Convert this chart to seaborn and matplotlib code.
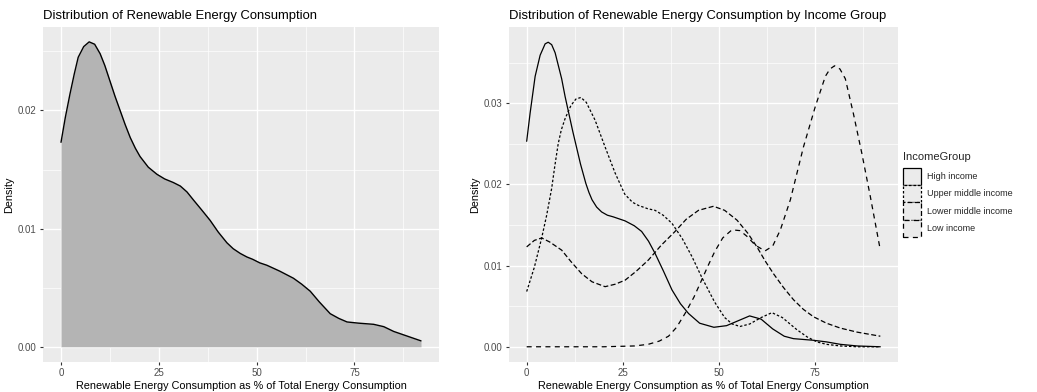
import matplotlib
matplotlib.use("Agg")
import matplotlib.pyplot as plt
import seaborn as sns
import pandas as pd
from matplotlib.patches import Patch
from matplotlib.ticker import MultipleLocator

# ---------------- data ----------------
all_x = [0, 1.1, 2.3, 3.4, 4.4, 5.8, 7.2, 8.6, 10, 11.2, 12.5, 13.8, 15.1, 16.4, 17.7, 19,
         20.2, 22.3, 24.5, 26.5, 28.7, 30.5, 32.2, 33.9, 35.9, 38.1, 40.2, 42.4, 44, 45.8,
         47.5, 49, 50.8, 52.6, 55.9, 59.4, 61.5, 63.7, 66, 68.8, 71, 73.1, 76, 79.9, 82.5,
         85, 88.5, 92]
all_density = [0.0173, 0.0194, 0.0214, 0.0231, 0.0245, 0.0254, 0.0258, 0.0256, 0.0248,
               0.0238, 0.0225, 0.0212, 0.0200, 0.0188, 0.0177, 0.0168, 0.0161, 0.0152,
               0.0146, 0.0142, 0.0139, 0.0136, 0.0131, 0.0124, 0.0116, 0.0107, 0.0097,
               0.0088, 0.0083, 0.0079, 0.0076, 0.0074, 0.0071, 0.0069, 0.0064, 0.0058,
               0.0053, 0.0047, 0.0038, 0.0028, 0.0024, 0.0021, 0.0020, 0.0019, 0.0017,
               0.0013, 0.0009, 0.0005]

groups = ["High income", "Upper middle income", "Lower middle income", "Low income"]

high_x = [0, 0.9, 2.2, 3.5, 4.8, 5.6, 6.5, 7.4, 9.1, 10, 12, 14, 15.4, 16.2, 17, 18.2, 19.5,
          21, 22.5, 25.6, 28, 29.9, 31.7, 33.4, 35.6, 37.8, 40, 42.1, 45, 48.7, 52, 55, 58,
          61, 64, 67, 69.4, 72, 74.6, 78, 81.6, 86, 92]
high_y = [0.0253, 0.0288, 0.0333, 0.0359, 0.0373, 0.0375, 0.0372, 0.0362, 0.0330, 0.0308,
          0.0265, 0.0225, 0.0201, 0.0190, 0.0181, 0.0172, 0.0166, 0.0162, 0.0160, 0.0155,
          0.0149, 0.0142, 0.0130, 0.0115, 0.0093, 0.0070, 0.0053, 0.0041, 0.0029, 0.0024,
          0.0026, 0.0032, 0.0038, 0.0034, 0.0022, 0.0013, 0.0010, 0.0009, 0.0008, 0.0006,
          0.0003, 0.0001, 0.0]

upper_x = [0, 2, 3.9, 5.2, 6.5, 7.3, 8.2, 9, 10, 11.5, 12.8, 14.1, 15.5, 17.8, 20.4, 23, 25.5,
           27.5, 29.1, 31.5, 33.4, 35.5, 37.8, 40.5, 43, 45.6, 48.9, 51.5, 53.5, 55.5, 58, 61,
           63.8, 66.5, 70.3, 73, 75.5, 78, 81.6, 86, 92]
upper_y = [0.0068, 0.0098, 0.0134, 0.0162, 0.0195, 0.0222, 0.0250, 0.0267, 0.0281, 0.0297,
           0.0305, 0.0307, 0.0301, 0.0279, 0.0246, 0.0214, 0.0188, 0.0178, 0.0174, 0.0170,
           0.0168, 0.0162, 0.0152, 0.0133, 0.0111, 0.0085, 0.0055, 0.0036, 0.0028, 0.0025,
           0.0028, 0.0036, 0.0042, 0.0036, 0.0021, 0.0012, 0.0006, 0.0003, 0.0001, 0.0, 0.0]

lower_x = [0, 2, 3.9, 6, 9.1, 11.5, 14.3, 17, 20.4, 23, 25.6, 28.5, 31.7, 35, 38.6, 41.5, 44.7,
           48.6, 51.5, 54.7, 57.5, 59.9, 62, 64.2, 66.8, 69.4, 72, 74.6, 78, 81.6, 86, 92]
lower_y = [0.0123, 0.0131, 0.0134, 0.0129, 0.0119, 0.0105, 0.0090, 0.0080, 0.0074, 0.0077,
           0.0082, 0.0093, 0.0107, 0.0125, 0.0142, 0.0157, 0.0168, 0.0173, 0.0168, 0.0156,
           0.0140, 0.0123, 0.0106, 0.0090, 0.0073, 0.0058, 0.0046, 0.0037, 0.0029, 0.0023,
           0.0018, 0.0013]

low_x = [0, 10, 20, 28, 31.6, 34.5, 36.9, 39, 41.2, 43.5, 45.6, 47.3, 48.9, 51, 53.4, 55.5,
         57.3, 59.5, 62, 64, 66, 68.6, 72, 75.1, 77.7, 78.9, 80.1, 81.5, 82.9, 85, 87.2,
         89.4, 92]
low_y = [0.0, 0.0, 0.0, 0.0001, 0.0003, 0.0007, 0.0013, 0.0024, 0.0041, 0.0061, 0.0083, 0.0101,
         0.0117, 0.0134, 0.0144, 0.0143, 0.0136, 0.0125, 0.0118, 0.0124, 0.0144, 0.0181,
         0.0246, 0.0296, 0.0333, 0.0342, 0.0346, 0.0342, 0.0330, 0.0287, 0.0238, 0.0185,
         0.0119]

x_ticks = [0, 25, 50, 75]
x_tick_labels = ["0", "25", "50", "75"]
left_y_ticks = [0.00, 0.01, 0.02]
left_y_labels = ["0.00", "0.01", "0.02"]
right_y_ticks = [0.00, 0.01, 0.02, 0.03]
right_y_labels = ["0.00", "0.01", "0.02", "0.03"]

# ---------------- style ----------------
sns.set_theme(style="darkgrid", rc={
    "axes.facecolor": "#EBEBEB",
    "grid.color": "white",
    "axes.edgecolor": "#EBEBEB",
    "axes.linewidth": 0,
    "xtick.color": "#333333",
    "ytick.color": "#333333",
    "xtick.bottom": True,
    "ytick.left": True,
    "xtick.major.size": 2.5,
    "ytick.major.size": 2.5,
    "xtick.major.width": 0.8,
    "ytick.major.width": 0.8,
    "xtick.major.pad": 2,
    "ytick.major.pad": 2,
})
plt.rcParams["font.family"] = ["Liberation Sans", "DejaVu Sans"]

W, H = 1037, 392
fig = plt.figure(figsize=(W / 100, H / 100), dpi=100)
fig.patch.set_facecolor("white")

def px_axes(x0, y0, x1, y1):
    return fig.add_axes([x0 / W, 1 - y1 / H, (x1 - x0) / W, (y1 - y0) / H])

ax1 = px_axes(43, 27, 439, 362)
ax2 = px_axes(509, 27, 898, 362)

def style_axes(ax, yticks, ylabels, ymax, yminor):
    ax.set_xlim(-4.6, 96.6)
    ax.set_ylim(-0.05 * ymax, 1.05 * ymax)
    ax.set_xticks(x_ticks)
    ax.set_xticklabels(x_tick_labels)
    ax.set_yticks(yticks)
    ax.set_yticklabels(ylabels)
    ax.xaxis.set_minor_locator(MultipleLocator(12.5))
    ax.yaxis.set_minor_locator(MultipleLocator(yminor))
    ax.grid(which="major", color="white", linewidth=1.0)
    ax.grid(which="minor", color="white", linewidth=0.5)
    ax.tick_params(axis="both", which="major", labelsize=7, labelcolor="#4D4D4D",
                   length=2.5, color="#333333")
    ax.tick_params(axis="both", which="minor", length=0)
    for s in ax.spines.values():
        s.set_visible(False)
    ax.set_axisbelow(True)
    ax.set_xlabel("Renewable Energy Consumption as % of Total Energy Consumption",
                  fontsize=7.8, color="black", labelpad=2)
    ax.set_ylabel("Density", fontsize=7.8, color="black", labelpad=3)

# ---------------- left panel ----------------
df_all = pd.DataFrame({"x": all_x, "density": all_density})
ax1.fill_between(df_all["x"], 0, df_all["density"], color="#B4B4B4", linewidth=0, zorder=2)
sns.lineplot(data=df_all, x="x", y="density", ax=ax1, color="black", linewidth=1.0,
             sort=False, zorder=3)
style_axes(ax1, left_y_ticks, left_y_labels, 0.02577, 0.005)
ax1.set_title("Distribution of Renewable Energy Consumption", fontsize=9.4, loc="left",
              pad=6, color="black")

# ---------------- right panel ----------------
frames = []
for g, xs, ys in zip(groups, [high_x, upper_x, lower_x, low_x], [high_y, upper_y, lower_y, low_y]):
    frames.append(pd.DataFrame({"x": xs, "density": ys, "IncomeGroup": g}))
df_grp = pd.concat(frames, ignore_index=True)

dash_map = {"High income": "", "Upper middle income": (2, 1.6),
            "Lower middle income": (4, 2), "Low income": (4, 3.5)}
sns.lineplot(data=df_grp, x="x", y="density", style="IncomeGroup", style_order=groups,
             dashes=dash_map, color="black", linewidth=0.9, ax=ax2, sort=False,
             estimator=None, legend=False)
style_axes(ax2, right_y_ticks, right_y_labels, 0.0375, 0.005)
ax2.set_title("Distribution of Renewable Energy Consumption by Income Group", fontsize=9.4,
              loc="left", pad=6, color="black")

ls_map = {"High income": "-", "Upper middle income": (0, (2, 1.6)),
          "Lower middle income": (0, (4, 2)), "Low income": (0, (4, 3.5))}
handles = [Patch(facecolor="#EBEBEB", edgecolor="black", linewidth=0.9, linestyle=ls_map[g],
                 label=g) for g in groups]
leg = fig.legend(handles=handles, title="IncomeGroup", loc="upper left",
                 bbox_to_anchor=(903 / W, 1 - 152 / H), frameon=False, fontsize=6.5,
                 title_fontsize=8, handlelength=2.0, handleheight=2.6, labelspacing=0.0,
                 handletextpad=0.7, borderpad=0, borderaxespad=0)
leg._legend_box.align = "left"
leg._legend_box.sep = 4

fig.savefig("out.png", dpi=100)
